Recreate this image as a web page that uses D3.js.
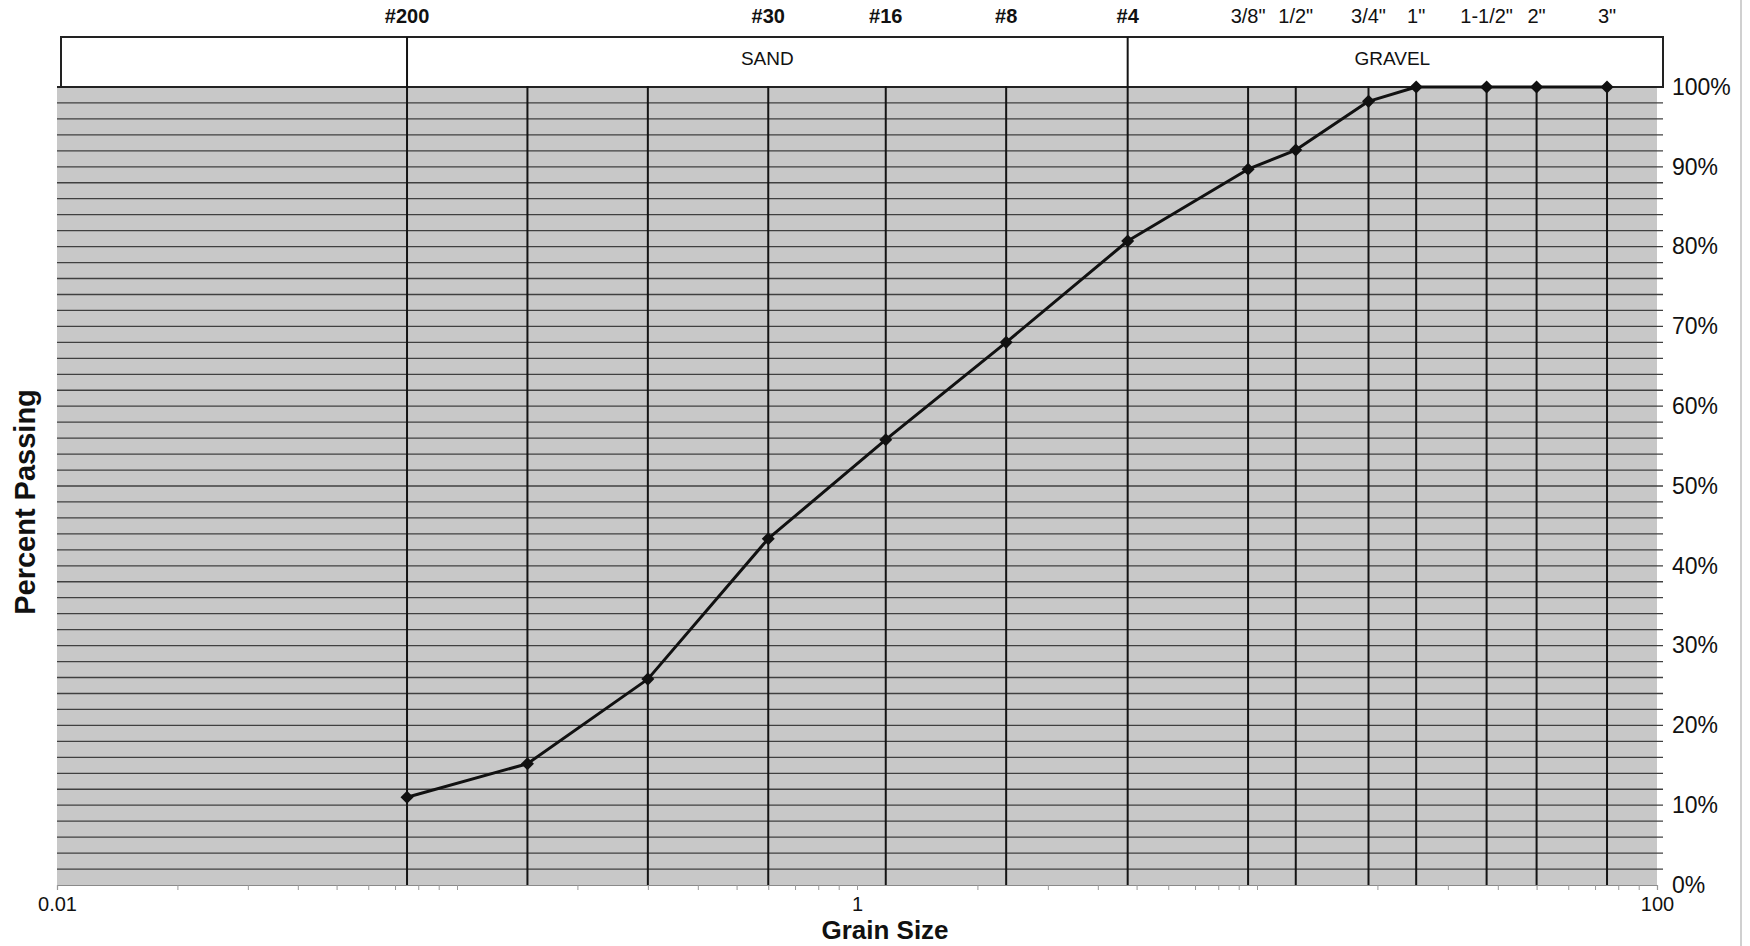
<!DOCTYPE html>
<html>
<head>
<meta charset="utf-8">
<script src="https://cdn.jsdelivr.net/npm/d3@7/dist/d3.min.js"></script>
<style>
  html, body { margin: 0; padding: 0; background: #ffffff; }
  svg { display: block; font-family: Arial, "Liberation Sans", sans-serif; }
</style>
</head>
<body>
<svg id="chart" width="1750" height="946"></svg>
<script>
// ---- data ----
const sieveSizes = [0.075, 0.15, 0.3, 0.6, 1.18, 2.36, 4.75, 9.5, 12.5, 19, 25, 37.5, 50, 75];
const sieveLabels = ["#200", "", "", "#30", "#16", "#8", "#4", "3/8\"", "1/2\"", "3/4\"", "1\"", "1-1/2\"", "2\"", "3\""];
const percentPassing = [11.0, 15.2, 25.8, 43.4, 55.8, 68.0, 80.7, 89.7, 92.1, 98.2, 100, 100, 100, 100];
const soilZones = ["SAND", "GRAVEL"];
const zoneBounds = [[0.075, 4.75], [4.75, 100]];
const xTickLabels = [0.01, 1, 100];
const yTicks = [0, 10, 20, 30, 40, 50, 60, 70, 80, 90, 100];
const xTitle = "Grain Size";
const yTitle = "Percent Passing";

(function () {
// ---- layout ----
const svg = d3.select("#chart");
const pLeft = 57, pRight = 1657, pTop = 87, pBottom = 885;
const headerTop = 37, headerLeft = 61, headerRight = 1663;
const FONT = "Arial, 'Liberation Sans', sans-serif";

const x = d3.scaleLog().domain([0.01, 100]).range([pLeft, pRight]);
const y = d3.scaleLinear().domain([0, 100]).range([pBottom, pTop]);

// gray plot area
svg.append("rect")
  .attr("x", pLeft).attr("y", pTop)
  .attr("width", pRight - pLeft).attr("height", pBottom - pTop)
  .attr("fill", "#c8c8c8");

// horizontal gridlines every 2% (extend slightly right as ticks)
const yGrid = d3.range(2, 100, 2);
svg.append("g").selectAll("line").data(yGrid).join("line")
  .attr("x1", pLeft).attr("x2", pRight + 6)
  .attr("y1", d => y(d)).attr("y2", d => y(d))
  .attr("stroke", "#404040").attr("stroke-width", 1.3);

// bottom axis with minor ticks
const minorTicks = [];
for (let e = -2; e < 2; e++) for (let m = 1; m < 10; m++) minorTicks.push(m * Math.pow(10, e));
minorTicks.push(100);
const xAxis = d3.axisBottom(x).tickValues(minorTicks).tickSize(5)
  .tickFormat(d => xTickLabels.some(v => Math.abs(v - d) < 1e-9) ? d3.format("~g")(d) : "");
const gx = svg.append("g").attr("transform", `translate(0,${pBottom})`).call(xAxis);
gx.select(".domain").attr("stroke", "#8a8a8a").attr("stroke-width", 1.2);
gx.selectAll(".tick line").attr("stroke", "#9a9a9a");
gx.selectAll(".tick text").attr("font-size", 20).attr("fill", "#111")
  .attr("y", 26).attr("dy", null)
  .attr("font-family", FONT);

// right y axis labels
const yAxis = d3.axisRight(y).tickValues(yTicks).tickSize(0).tickPadding(15)
  .tickFormat(d => d + "%");
const gy = svg.append("g").attr("transform", `translate(${pRight},0)`).call(yAxis);
gy.select(".domain").remove();
gy.selectAll(".tick text").attr("font-size", 23).attr("fill", "#111")
  .attr("font-family", FONT);

// header box
svg.append("rect")
  .attr("x", headerLeft).attr("y", headerTop)
  .attr("width", headerRight - headerLeft).attr("height", pTop - headerTop)
  .attr("fill", "#ffffff").attr("stroke", "#222").attr("stroke-width", 2);

// top border of plot (100% line)
svg.append("line")
  .attr("x1", pLeft).attr("x2", headerRight)
  .attr("y1", y(100)).attr("y2", y(100))
  .attr("stroke", "#222").attr("stroke-width", 2);

// zone labels
svg.append("g").selectAll("text").data(soilZones).join("text")
  .attr("x", (d, i) => (x(zoneBounds[i][0]) + Math.min(x(zoneBounds[i][1]), headerRight)) / 2)
  .attr("y", 65)
  .attr("text-anchor", "middle")
  .attr("font-size", 19).attr("fill", "#111")
  .text(d => d);

// vertical sieve lines
const boundarySieves = [0.075, 4.75];
svg.append("g").selectAll("line").data(sieveSizes).join("line")
  .attr("x1", d => x(d)).attr("x2", d => x(d))
  .attr("y1", d => boundarySieves.includes(d) ? headerTop : pTop - 1)
  .attr("y2", pBottom)
  .attr("stroke", "#141414").attr("stroke-width", 2);

// sieve labels at top
svg.append("g").selectAll("text").data(sieveSizes).join("text")
  .attr("x", d => x(d))
  .attr("y", 23)
  .attr("text-anchor", "middle")
  .attr("font-size", 20)
  .attr("font-weight", (d, i) => sieveLabels[i].startsWith("#") ? "bold" : "normal")
  .attr("fill", "#111")
  .text((d, i) => sieveLabels[i]);

// gradation curve
const pts = sieveSizes.map((s, i) => [s, percentPassing[i]]);
svg.append("path")
  .datum(pts)
  .attr("fill", "none").attr("stroke", "#111").attr("stroke-width", 3)
  .attr("stroke-linejoin", "round")
  .attr("d", d3.line().x(d => x(d[0])).y(d => y(d[1])));

svg.append("g").selectAll("path").data(pts).join("path")
  .attr("d", d3.symbol().type(d3.symbolSquare).size(85))
  .attr("transform", d => `translate(${x(d[0])},${y(d[1])}) rotate(45)`)
  .attr("fill", "#111");

// axis titles
svg.append("text")
  .attr("x", 885).attr("y", 939)
  .attr("text-anchor", "middle")
  .attr("font-size", 26).attr("font-weight", "bold").attr("fill", "#111")
  .text(xTitle);

svg.append("text")
  .attr("transform", "translate(35,502) rotate(-90)")
  .attr("text-anchor", "middle")
  .attr("font-size", 29).attr("font-weight", "bold").attr("fill", "#111")
  .text(yTitle);

// scan page edge
svg.append("line")
  .attr("x1", 1741).attr("x2", 1741).attr("y1", 0).attr("y2", 946)
  .attr("stroke", "#d0d0d0").attr("stroke-width", 2);
})();
</script>
</body>
</html>
